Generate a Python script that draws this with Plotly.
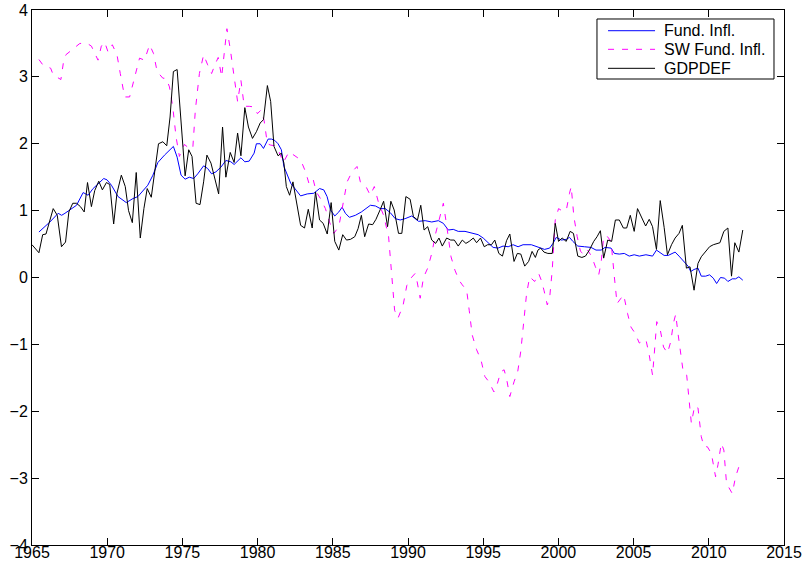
import plotly.graph_objects as go

# ---------------- data ----------------
gdp_years = [1965.0, 1965.46, 1965.71, 1965.93, 1966.41, 1966.68, 1966.96, 1967.23, 1967.45, 1967.71,
             1967.96, 1968.22, 1968.47, 1968.69, 1968.95, 1969.17, 1969.44, 1969.68, 1969.95, 1970.17,
             1970.43, 1970.65, 1970.94, 1971.2, 1971.42, 1971.67, 1971.93, 1972.2, 1972.44, 1972.66,
             1972.93, 1973.18, 1973.41, 1973.70, 1973.96, 1974.18, 1974.40, 1974.65, 1974.91, 1975.18,
             1975.42, 1975.64, 1975.91, 1976.17, 1976.41, 1976.63, 1976.90, 1977.16, 1977.41, 1977.67,
             1977.89, 1978.18, 1978.44, 1978.67, 1978.89, 1979.15, 1979.39, 1979.66, 1979.92, 1980.17,
             1980.39, 1980.65, 1980.87, 1981.09, 1981.36, 1981.58, 1981.75, 1981.91, 1982.13, 1982.35,
             1982.64, 1982.86, 1983.12, 1983.37, 1983.63, 1983.85, 1984.12, 1984.36, 1984.63, 1984.89,
             1985.13, 1985.40, 1985.66, 1985.91, 1986.17, 1986.46, 1986.68, 1986.9, 1987.12, 1987.38,
             1987.65, 1987.87, 1988.16, 1988.38, 1988.64, 1988.86, 1989.08, 1989.37, 1989.59, 1989.86,
             1990.14, 1990.36, 1990.63, 1990.85, 1991.07, 1991.31, 1991.58, 1991.84, 1992.06, 1992.28,
             1992.57, 1992.84, 1993.08, 1993.34, 1993.61, 1993.85, 1994.07, 1994.34, 1994.56, 1994.82,
             1995.07, 1995.29, 1995.55, 1995.77, 1996.04, 1996.28, 1996.55, 1996.77, 1997.05, 1997.27,
             1997.5, 1997.76, 1998.02, 1998.25, 1998.47, 1998.64, 1998.82, 1999.04, 1999.3, 1999.59,
             1999.79, 2000.01, 2000.25, 2000.52, 2000.78, 2001.0, 2001.29, 2001.56, 2001.8, 2002.06,
             2002.35, 2002.57, 2002.79, 2003.01, 2003.28, 2003.54, 2003.79, 2004.05, 2004.32, 2004.54,
             2004.78, 2005.04, 2005.26, 2005.53, 2005.8, 2006.04, 2006.26, 2006.52, 2006.77, 2007.03,
             2007.25, 2007.52, 2007.76, 2008.02, 2008.24, 2008.51, 2008.75, 2009.02, 2009.28, 2009.5,
             2009.79, 2010.05, 2010.3, 2010.52, 2010.74, 2011.0, 2011.27, 2011.51, 2011.73, 2012.0,
             2012.26]
gdp_vals = [0.49, 0.37, 0.64, 0.65, 1.03, 0.93, 0.46, 0.53, 0.98, 1.11,
            1.11, 1.06, 0.98, 1.42, 1.06, 1.30, 1.44, 1.31, 1.42, 1.39,
            0.80, 1.26, 1.53, 1.36, 1.00, 0.82, 1.57, 0.59, 1.03, 1.33,
            1.20, 1.58, 2.00, 2.03, 1.97, 2.40, 3.08, 3.11, 2.35, 1.52,
            1.91, 1.81, 1.11, 1.09, 1.43, 1.83, 1.71, 1.47, 1.25, 2.25,
            1.50, 1.87, 1.72, 2.16, 1.82, 2.54, 2.25, 2.08, 2.18, 2.31,
            2.36, 2.87, 2.63, 1.96, 1.82, 1.86, 1.71, 1.36, 1.23, 1.43,
            1.03, 0.78, 0.74, 1.02, 0.74, 1.28, 0.86, 0.81, 0.65, 1.12,
            0.54, 0.41, 0.64, 0.56, 0.57, 0.61, 0.73, 0.93, 0.61, 0.80,
            0.79, 0.87, 1.02, 1.14, 0.76, 1.14, 1.01, 0.66, 0.66, 1.21,
            1.17, 0.91, 0.86, 1.08, 0.71, 0.76, 0.56, 0.51, 0.59, 0.47,
            0.59, 0.56, 0.56, 0.47, 0.56, 0.51, 0.54, 0.59, 0.52, 0.59,
            0.46, 0.49, 0.49, 0.56, 0.36, 0.32, 0.55, 0.65, 0.24, 0.36,
            0.35, 0.17, 0.24, 0.39, 0.30, 0.41, 0.44, 0.38, 0.36, 0.36,
            0.81, 0.54, 0.59, 0.54, 0.69, 0.66, 0.32, 0.30, 0.32, 0.41,
            0.54, 0.61, 0.70, 0.29, 0.56, 0.54, 0.86, 0.86, 0.74, 0.74,
            0.93, 0.69, 1.03, 0.90, 0.77, 0.87, 0.76, 0.42, 1.15, 0.75,
            0.34, 0.49, 0.59, 0.66, 0.78, 0.14, 0.16, -0.19, 0.21, 0.31,
            0.39, 0.46, 0.49, 0.51, 0.52, 0.69, 0.74, 0.02, 0.52, 0.38,
            0.71]

fund_years = [1965.46, 1966.19, 1966.74, 1966.97, 1967.19, 1967.52, 1967.96, 1968.4, 1968.73, 1969.06,
              1969.5, 1969.77, 1969.99, 1970.28, 1970.72, 1971.27, 1971.71, 1972.04, 1972.7, 1973.04,
              1973.37, 1973.81, 1974.4, 1974.65, 1974.91, 1975.18, 1975.46, 1975.75, 1976.02, 1976.41,
              1976.68, 1976.94, 1977.23, 1977.56, 1977.89, 1978.22, 1978.44, 1978.89, 1979.15, 1979.44,
              1979.77, 1979.92, 1980.17, 1980.39, 1980.7, 1980.92, 1981.14, 1981.36, 1981.58, 1981.75,
              1982.2, 1982.53, 1982.86, 1983.3, 1983.74, 1984.12, 1984.4, 1984.62, 1984.85, 1985.13,
              1985.4, 1985.62, 1985.84, 1986.1, 1986.5, 1986.9, 1987.21, 1987.5, 1987.83, 1988.16,
              1988.49, 1988.82, 1989.15, 1989.48, 1989.81, 1990.25, 1990.7, 1991.14, 1991.58, 1992.02,
              1992.35, 1992.68, 1993.01, 1993.34, 1993.79, 1994.23, 1994.67, 1995.0, 1995.33, 1995.66,
              1995.99, 1996.32, 1996.66, 1996.99, 1997.32, 1997.65, 1998.2, 1998.64, 1999.08, 1999.42,
              1999.64, 1999.86, 2000.19, 2000.52, 2000.74, 2000.96, 2001.29, 2001.73, 2002.17, 2002.5,
              2002.84, 2003.1, 2003.5, 2003.72, 2004.05, 2004.38, 2004.71, 2005.04, 2005.38, 2005.82,
              2006.26, 2006.52, 2006.77, 2007.03, 2007.3, 2007.76, 2008.02, 2008.36, 2008.62, 2008.8,
              2009.02, 2009.28, 2009.5, 2009.79, 2010.05, 2010.3, 2010.52, 2010.78, 2011.05, 2011.27,
              2011.56, 2011.78, 2012.0, 2012.26]
fund_vals = [0.68, 0.83, 0.96, 0.93, 0.96, 1.01, 1.08, 1.27, 1.23, 1.33,
             1.43, 1.48, 1.46, 1.38, 1.21, 1.12, 1.18, 1.21, 1.38, 1.53,
             1.72, 1.83, 1.96, 1.80, 1.53, 1.47, 1.50, 1.48, 1.55, 1.67,
             1.63, 1.55, 1.58, 1.65, 1.75, 1.73, 1.69, 1.79, 1.73, 1.74,
             1.86, 2.00, 2.00, 1.93, 2.07, 2.07, 2.05, 2.00, 1.91, 1.66,
             1.41, 1.31, 1.22, 1.25, 1.26, 1.33, 1.31, 1.21, 1.01, 0.92,
             0.98, 1.05, 0.96, 0.90, 0.93, 0.98, 1.03, 1.08, 1.07, 1.03,
             1.03, 0.97, 0.88, 0.86, 0.88, 0.92, 0.84, 0.85, 0.83, 0.85,
             0.81, 0.71, 0.72, 0.69, 0.69, 0.66, 0.64, 0.59, 0.52, 0.45,
             0.44, 0.47, 0.46, 0.49, 0.46, 0.49, 0.49, 0.46, 0.42, 0.44,
             0.51, 0.60, 0.56, 0.57, 0.60, 0.54, 0.47, 0.46, 0.45, 0.41,
             0.41, 0.45, 0.44, 0.36, 0.35, 0.36, 0.32, 0.34, 0.32, 0.34,
             0.32, 0.41, 0.37, 0.33, 0.33, 0.38, 0.32, 0.24, 0.17, 0.09,
             0.12, 0.14, 0.02, 0.02, 0.04, -0.01, -0.09, 0.00, -0.01, -0.06,
             -0.02, -0.02, 0.01, -0.04]

sw_years = [1965.46, 1965.75, 1966.24, 1966.41, 1966.92, 1967.08, 1967.25, 1967.85, 1968.18, 1968.67,
            1968.95, 1969.39, 1969.61, 1969.83, 1970.06, 1970.34, 1970.65, 1970.87, 1971.16, 1971.49,
            1971.71, 1971.93, 1972.15, 1972.48, 1972.82, 1973.08, 1973.32, 1973.7, 1973.92, 1974.14,
            1974.36, 1974.58, 1974.8, 1975.13, 1975.46, 1975.69, 1975.86, 1976.13, 1976.41, 1976.68,
            1976.94, 1977.16, 1977.38, 1977.61, 1977.78, 1977.96, 1978.18, 1978.44, 1978.67, 1978.89,
            1979.11, 1979.44, 1979.77, 1979.99, 1980.21, 1980.43, 1980.65, 1980.87, 1981.14, 1981.42,
            1981.71, 1982.09, 1982.42, 1982.86, 1983.19, 1983.41, 1983.68, 1983.9, 1984.18, 1984.51,
            1984.78, 1985.07, 1985.4, 1985.62, 1985.95, 1986.28, 1986.61, 1986.83, 1987.16, 1987.49,
            1987.76, 1988.05, 1988.38, 1988.71, 1988.93, 1989.11, 1989.33, 1989.67, 1989.92, 1990.19,
            1990.47, 1990.58, 1990.81, 1991.03, 1991.31, 1991.58, 1991.84, 1992.13, 1992.35, 1992.57,
            1992.86, 1993.12, 1993.39, 1993.61, 1993.9, 1994.07, 1994.27, 1994.56, 1994.85, 1995.11,
            1995.38, 1995.71, 1995.95, 1996.17, 1996.39, 1996.55, 1996.77, 1997.05, 1997.3, 1997.5,
            1997.7, 1997.88, 1998.09, 1998.42, 1998.69, 1998.86, 1999.04, 1999.26, 1999.42, 1999.59,
            1999.79, 2000.01, 2000.23, 2000.52, 2000.74, 2000.85, 2001.03, 2001.25, 2001.47, 2001.73,
            2001.95, 2002.22, 2002.46, 2002.68, 2002.84, 2003.01, 2003.23, 2003.5, 2003.72, 2003.9,
            2004.16, 2004.34, 2004.6, 2004.82, 2005.09, 2005.38, 2005.6, 2005.82, 2006.04, 2006.26,
            2006.41, 2006.54, 2006.77, 2006.99, 2007.25, 2007.47, 2007.65, 2007.8, 2007.96, 2008.14,
            2008.31, 2008.53, 2008.69, 2008.84, 2009.06, 2009.28, 2009.5, 2009.68, 2009.9, 2010.17,
            2010.45, 2010.61, 2010.83, 2011.0, 2011.18, 2011.56, 2011.78, 2012.0, 2012.26]
sw_vals = [3.26, 3.17, 3.13, 3.03, 2.96, 3.20, 3.33, 3.44, 3.50, 3.50,
           3.46, 3.25, 3.46, 3.52, 3.37, 3.48, 3.33, 3.05, 2.70, 2.70,
           2.88, 3.08, 3.28, 3.25, 3.48, 3.35, 3.08, 2.98, 2.98, 2.85,
           2.55, 2.10, 1.81, 1.99, 1.93, 1.93, 2.50, 3.05, 3.33, 3.18,
           3.05, 3.18, 3.29, 3.00, 3.33, 3.72, 3.42, 3.00, 2.63, 2.95,
           2.56, 2.56, 2.55, 2.45, 2.50, 2.35, 2.00, 1.98, 1.97, 1.88,
           1.72, 1.88, 1.83, 1.76, 1.58, 1.41, 1.48, 1.28, 1.18, 1.03,
           0.83, 0.66, 0.76, 1.01, 1.43, 1.58, 1.66, 1.43, 1.38, 1.23,
           1.36, 1.11, 0.93, 0.61, -0.04, -0.49, -0.61, -0.42, -0.12, -0.01,
           0.06, -0.03, -0.31, 0.00, 0.14, 0.36, 0.66, 0.93, 1.11, 0.78,
           0.31, 0.11, -0.04, -0.11, -0.19, -0.49, -0.86, -1.08, -1.23, -1.48,
           -1.56, -1.71, -1.58, -1.41, -1.38, -1.51, -1.78, -1.56, -1.40, -1.10,
           -0.70, -0.25, 0.01, -0.06, 0.06, -0.04, -0.19, -0.41, -0.30, 0.11,
           0.86, 1.03, 1.00, 1.00, 1.26, 1.36, 0.91, 0.61, 0.39, 0.34,
           0.41, 0.31, 0.16, 0.04, 0.22, 0.61, 0.62, 0.54, 0.01, -0.39,
           -0.31, -0.26, -0.54, -0.74, -0.83, -0.98, -0.95, -0.93, -1.16, -1.46,
           -1.04, -0.66, -0.78, -1.04, -1.13, -0.96, -0.68, -0.55, -0.85, -1.13,
           -1.43, -1.46, -1.83, -2.18, -1.92, -1.95, -2.38, -2.53, -2.53, -2.63,
           -2.98, -2.80, -2.48, -2.58, -3.08, -3.23, -2.98, -2.83, -2.90]

x_ticks = [1965, 1970, 1975, 1980, 1985, 1990, 1995, 2000, 2005, 2010, 2015]
y_ticks = [-4, -3, -2, -1, 0, 1, 2, 3, 4]

series_names = ["Fund. Infl.", "SW Fund. Infl.", "GDPDEF"]
series_colors = ["#0000FF", "#FF00FF", "#000000"]
series_dash = ["solid", "6px,8px", "solid"]

# ---------------- figure ----------------
FONT = "Liberation Sans, Arial, Helvetica, sans-serif"

fig = go.Figure()
for xs, ys, name, col, dash in zip([fund_years, sw_years, gdp_years],
                                   [fund_vals, sw_vals, gdp_vals],
                                   series_names, series_colors, series_dash):
    fig.add_trace(go.Scatter(x=xs, y=ys, mode="lines", name=name,
                             line=dict(color=col, width=1, dash=dash)))

axis_common = dict(showgrid=False, zeroline=False, showline=True, linecolor="black",
                   linewidth=1, mirror="ticks", ticks="inside", ticklen=7, tickwidth=1,
                   tickcolor="black", tickfont=dict(family=FONT, size=16, color="black"),
                   automargin=False)

fig.update_xaxes(range=[1965, 2015], tickmode="array", tickvals=x_ticks,
                 ticktext=[str(t) for t in x_ticks], ticklabelstandoff=-7, **axis_common)
fig.update_yaxes(range=[-4, 4], tickmode="array", tickvals=y_ticks, **axis_common)

# MATLAB-style legend box (drawn in paper coordinates)
shapes = [dict(type="rect", xref="paper", yref="paper", x0=0.7513, x1=0.9867, y0=0.871, y1=0.9832,
               line=dict(color="black", width=1), fillcolor="white", layer="above")]
annotations = []
row_y = [0.9613, 0.9265, 0.891]
for name, col, dash, yy in zip(series_names, series_colors, series_dash, row_y):
    shapes.append(dict(type="line", xref="paper", yref="paper", x0=0.766, x1=0.8285, y0=yy, y1=yy,
                       line=dict(color=col, width=1, dash=dash), layer="above"))
    annotations.append(dict(xref="paper", yref="paper", x=0.8378, y=yy, xanchor="left",
                            yanchor="middle", text=name, showarrow=False,
                            font=dict(family=FONT, size=16, color="black")))

fig.update_layout(
    width=804, height=565,
    margin=dict(l=32, r=20, t=10, b=20),
    paper_bgcolor="white", plot_bgcolor="white",
    font=dict(family=FONT, color="black"),
    showlegend=False,
    shapes=shapes,
    annotations=annotations,
)

fig.write_html("out.html", config={"displayModeBar": False},
               post_script="document.body.style.margin='0';")
